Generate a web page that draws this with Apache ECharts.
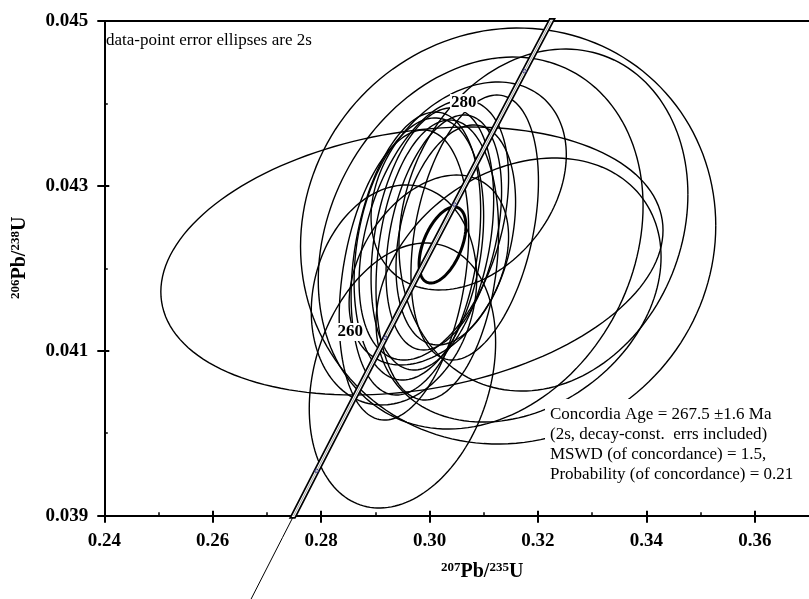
<!DOCTYPE html>
<html>
<head>
<meta charset="utf-8">
<script src="https://cdn.jsdelivr.net/npm/echarts@6/dist/echarts.min.js"></script>
<style>
  html, body { margin: 0; padding: 0; background: #fff; }
  #chart { width: 809px; height: 599px; }
</style>
</head>
<body>
<div id="chart"></div>
<script>
// axis ticks
const xTicks = [0.24, 0.26, 0.28, 0.30, 0.32, 0.34, 0.36];
const xMinor = [0.25, 0.27, 0.29, 0.31, 0.33, 0.35];
const yTicks = [0.039, 0.041, 0.043, 0.045];
const yMinor = [0.040, 0.042, 0.044];

// error ellipses (2s): centre, half-width, half-height, correlation
const ellX   = [0.29675, 0.31450, 0.32101, 0.30943, 0.31642, 0.29500, 0.29748, 0.29803, 0.30052, 0.30143, 0.30263, 0.30484, 0.30833, 0.30722, 0.29344, 0.29528, 0.30079, 0.29987];
const ellY   = [0.042089, 0.042392, 0.042586, 0.042307, 0.041737, 0.040700, 0.042180, 0.042235, 0.042356, 0.042101, 0.042435, 0.042405, 0.042495, 0.042999, 0.041677, 0.041919, 0.042465, 0.041980];
const ellSX  = [0.04632, 0.03830, 0.02665, 0.02996, 0.02629, 0.01719, 0.01195, 0.01195, 0.01131, 0.01131, 0.01066, 0.01103, 0.01176, 0.01801, 0.01526, 0.01195, 0.01379, 0.01471];
const ellSY  = [0.001625, 0.002523, 0.002074, 0.002256, 0.001601, 0.001607, 0.001716, 0.001589, 0.001589, 0.001698, 0.001425, 0.001334, 0.001607, 0.001261, 0.001334, 0.001759, 0.001577, 0.001152];
const ellRho = [0.23, 0.05, 0.15, 0.20, 0.25, 0.25, 0.30, 0.25, 0.30, 0.20, 0.35, 0.30, 0.35, 0.30, 0.15, 0.30, 0.40, 0.35];

// concordia age ellipse
const ageX = 0.30239, ageY = 0.042283, ageSX = 0.00432, ageSY = 0.000461, ageRho = 0.5;

// concordia curve (t in Ma)
const concAge = [240, 245, 250, 255, 260, 265, 270, 275, 280, 285, 290];
const concX = [0.266636, 0.272889, 0.279172, 0.285487, 0.291831, 0.298210, 0.304618, 0.311057, 0.317529, 0.324032, 0.330569];
const concY = [0.037932, 0.038737, 0.039543, 0.040350, 0.041157, 0.041965, 0.042773, 0.043582, 0.044392, 0.045202, 0.046013];

// age markers and labels
const markAge = [250, 260, 270, 280];
const labelText = ['260', '280'];
const labelX = [0.28535, 0.30630];
const labelY = [0.041228, 0.044005];

const serif = '"Liberation Serif", "Times New Roman", serif';

const concData = concX.map((x, i) => [x, concY[i]]);
const lowData = concData.filter((d, i) => concAge[i] <= 250);
const markData = markAge.map(a => concData[concAge.indexOf(a)]);

function ellipsePoints(api, cx, cy, sx, sy, rho) {
  const pts = [];
  const k = Math.sqrt(1 - rho * rho);
  for (let j = 0; j <= 160; j++) {
    const t = j / 160 * 2 * Math.PI;
    const x = cx + sx * Math.cos(t);
    const y = cy + sy * (rho * Math.cos(t) + k * Math.sin(t));
    pts.push(api.coord([x, y]));
  }
  return pts;
}

const chart = echarts.init(document.getElementById('chart'), null, { renderer: 'canvas' });

const baseAxis = {
  type: 'value',
  min: 0.24,
  max: 0.37,
  splitLine: { show: false },
  axisLabel: { show: false },
  axisTick: { show: false },
  axisLine: { show: false }
};

const supRich = {
  s: { fontFamily: serif, fontWeight: 'bold', fontSize: 13, padding: [0, 0, 9, 0], fill: '#000' },
  b: { fontFamily: serif, fontWeight: 'bold', fontSize: 20, fill: '#000' }
};

chart.setOption({
  animation: false,
  backgroundColor: '#fff',
  grid: { left: 104.3, top: 21, width: 707, height: 494.7, containLabel: false },
  xAxis: [
    {
      ...baseAxis,
      position: 'bottom',
      axisLine: { show: true, onZero: false, lineStyle: { color: '#000', width: 2 } },
      axisTick: { show: true, customValues: xTicks, length: 7, lineStyle: { color: '#000', width: 2 } },
      axisLabel: {
        show: true, customValues: xTicks, margin: 16,
        formatter: v => v.toFixed(2),
        color: '#000', fontFamily: serif, fontWeight: 'bold', fontSize: 19
      }
    },
    {
      ...baseAxis,
      position: 'bottom',
      axisTick: { show: true, inside: true, customValues: xTicks, length: 5, lineStyle: { color: '#000', width: 2 } }
    },
    {
      ...baseAxis,
      position: 'bottom',
      axisTick: { show: true, inside: true, customValues: xMinor, length: 3.5, lineStyle: { color: '#000', width: 1.5 } }
    },
    {
      ...baseAxis,
      position: 'top',
      axisLine: { show: true, onZero: false, lineStyle: { color: '#000', width: 2 } }
    }
  ],
  yAxis: [
    {
      type: 'value', min: 0.039, max: 0.045, position: 'left',
      splitLine: { show: false },
      axisLine: { show: true, onZero: false, lineStyle: { color: '#000', width: 2 } },
      axisTick: { show: true, customValues: yTicks, length: 7, lineStyle: { color: '#000', width: 2 } },
      axisLabel: {
        customValues: yTicks, margin: 16,
        formatter: v => v.toFixed(3),
        color: '#000', fontFamily: serif, fontWeight: 'bold', fontSize: 19
      }
    },
    {
      type: 'value', min: 0.039, max: 0.045, position: 'left',
      splitLine: { show: false }, axisLine: { show: false }, axisLabel: { show: false },
      axisTick: { show: true, inside: true, customValues: yTicks, length: 5, lineStyle: { color: '#000', width: 2 } }
    },
    {
      type: 'value', min: 0.039, max: 0.045, position: 'left',
      splitLine: { show: false }, axisLine: { show: false }, axisLabel: { show: false },
      axisTick: { show: true, inside: true, customValues: yMinor, length: 3.5, lineStyle: { color: '#000', width: 1.5 } }
    }
  ],
  series: [
    {
      type: 'custom',
      name: 'ellipses',
      clip: true,
      silent: true,
      z: 2,
      data: ellX.map((x, i) => [x, ellY[i]]),
      renderItem: (params, api) => {
        const i = params.dataIndex;
        return {
          type: 'polyline',
          shape: { points: ellipsePoints(api, ellX[i], ellY[i], ellSX[i], ellSY[i], ellRho[i]) },
          style: { stroke: '#000', lineWidth: 1.4, fill: null }
        };
      }
    },
    {
      type: 'custom',
      name: 'concordia age',
      clip: true,
      silent: true,
      z: 3,
      data: [[ageX, ageY]],
      renderItem: (params, api) => ({
        type: 'polyline',
        shape: { points: ellipsePoints(api, ageX, ageY, ageSX, ageSY, ageRho) },
        style: { stroke: '#000', lineWidth: 3, fill: null }
      })
    },
    {
      type: 'line', data: lowData, clip: false, showSymbol: false, silent: true, z: 4,
      lineStyle: { color: '#000', width: 1 }
    },
    {
      type: 'line', data: concData, clip: true, showSymbol: false, silent: true, z: 5,
      lineStyle: { color: '#000', width: 6 }
    },
    {
      type: 'line', data: concData, clip: true, showSymbol: false, silent: true, z: 6,
      lineStyle: { color: '#fff', width: 2.6 }
    },
    {
      type: 'line', data: concData, clip: true, showSymbol: false, silent: true, z: 7,
      lineStyle: { color: '#666', width: 0.6 }
    },
    {
      type: 'scatter', data: markData, symbol: 'circle', symbolSize: 3.5, silent: true, z: 8,
      itemStyle: { color: 'none', borderColor: '#33337a', borderWidth: 1, opacity: 1 }
    },
    {
      type: 'scatter', silent: true, z: 9, symbolSize: 0,
      itemStyle: { opacity: 1 },
      data: labelX.map((x, i) => ({ value: [x, labelY[i]], name: labelText[i] })),
      label: {
        show: true, position: 'inside', formatter: p => p.name,
        color: '#000', opacity: 1, fontFamily: serif, fontWeight: 'bold', fontSize: 17,
        backgroundColor: '#fff', padding: [1, 1, 0, 1]
      }
    }
  ],
  graphic: [
    {
      type: 'text', left: 106, top: 32, z: 100,
      style: { text: 'data-point error ellipses are 2s', fill: '#000', font: '17px ' + serif }
    },
    {
      type: 'text', left: 545, top: 399, z: 100,
      style: {
        text: 'Concordia Age = 267.5 \u00b11.6 Ma\n(2s, decay-const.  errs included)\nMSWD (of concordance) = 1.5,\nProbability (of concordance) = 0.21',
        fill: '#000', font: '17px ' + serif, lineHeight: 20,
        backgroundColor: '#fff', padding: [6, 12, 6, 5]
      }
    },
    {
      type: 'text', left: 441, top: 561, z: 100,
      style: { text: '{s|207}{b|Pb/}{s|235}{b|U}', rich: supRich }
    },
    {
      type: 'text', x: 9, y: 299, rotation: Math.PI / 2, z: 100,
      style: { text: '{s|206}{b|Pb/}{s|238}{b|U}', rich: supRich }
    }
  ]
});
</script>
</body>
</html>
